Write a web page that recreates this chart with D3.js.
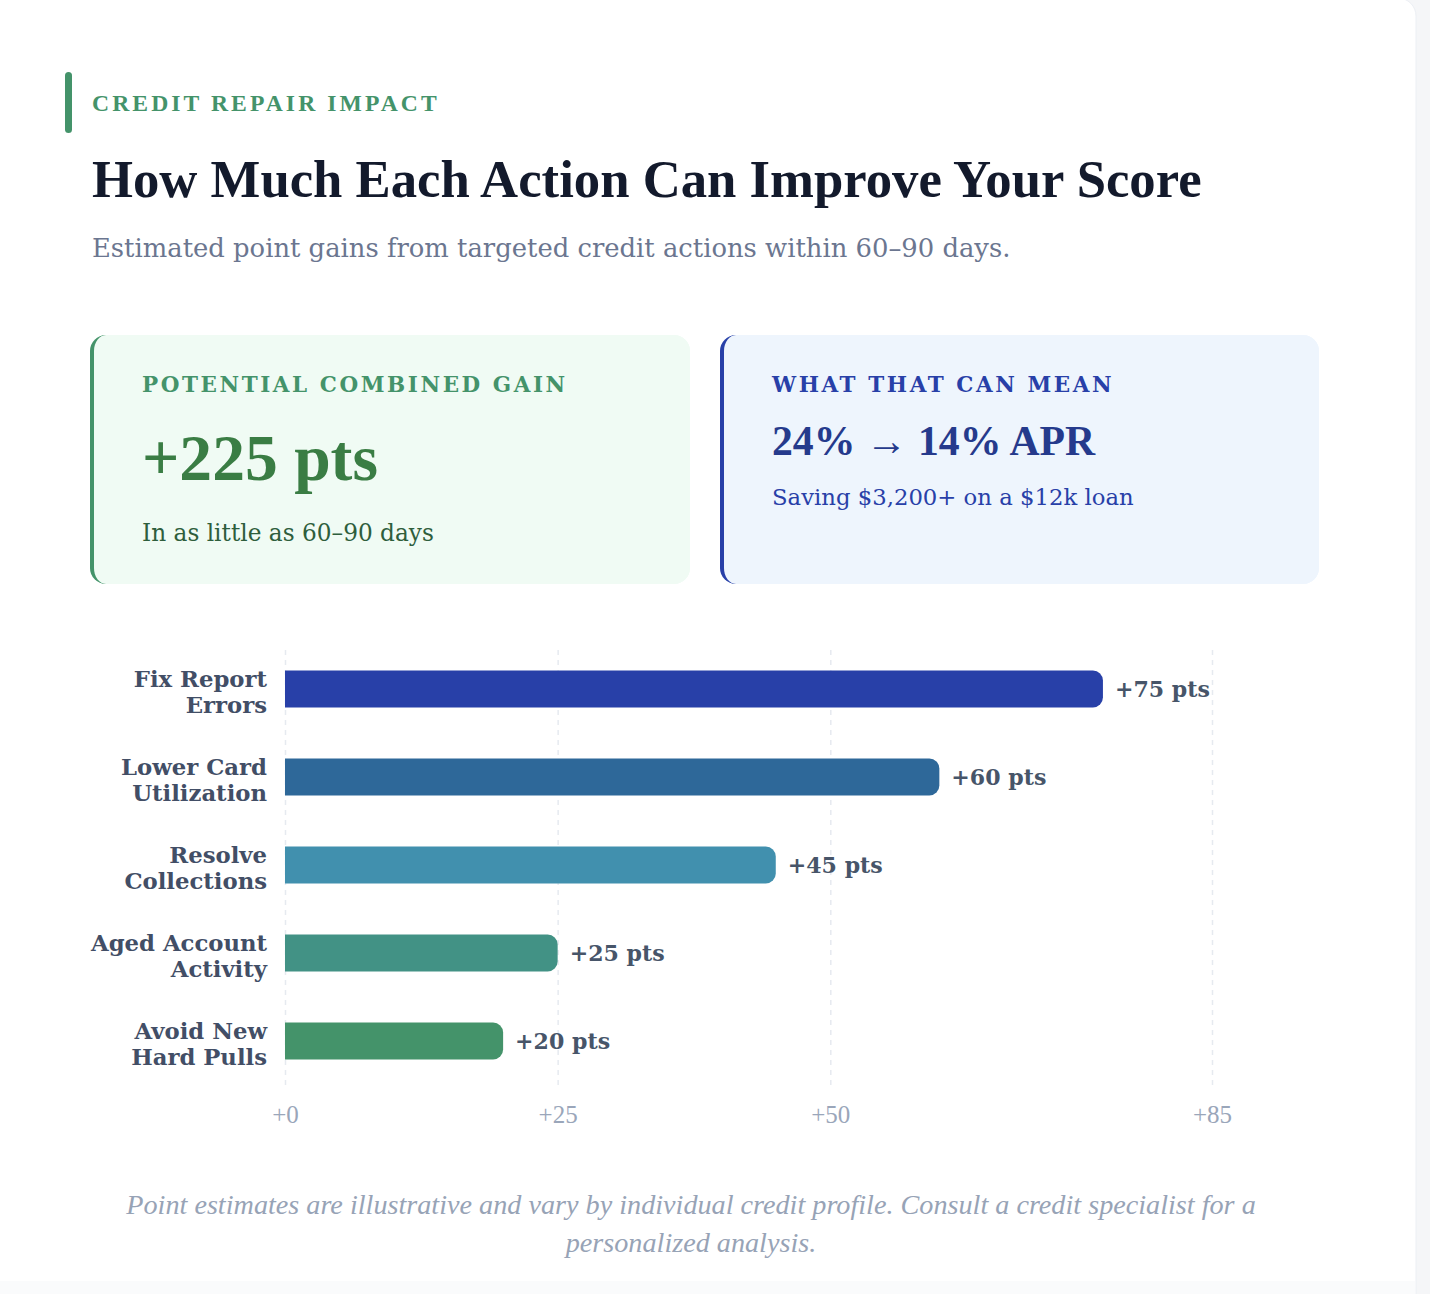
<!DOCTYPE html>
<html><head><meta charset="utf-8">
<script src="https://cdn.jsdelivr.net/npm/d3@7"></script>
<style>html,body{margin:0;padding:0;background:#f5f6f8;} svg{display:block}</style>
</head><body><svg id="c" width="1430" height="1294"></svg>
<script>
// ---------- data ----------
const categories = ["Fix Report Errors","Lower Card Utilization","Resolve Collections","Aged Account Activity","Avoid New Hard Pulls"];
const categoryLines = [["Fix Report","Errors"],["Lower Card","Utilization"],["Resolve","Collections"],["Aged Account","Activity"],["Avoid New","Hard Pulls"]];
const gains = [75, 60, 45, 25, 20];
const barColors = ["#2840a8","#2e6899","#4190ae","#429285","#44936a"];
const tickValues = [0, 25, 50, 85];
const axisMax = 85;
const eyebrow = "CREDIT REPAIR IMPACT";
const title = "How Much Each Action Can Improve Your Score";
const subtitle = "Estimated point gains from targeted credit actions within 60\u201390 days.";
const cardLabels = ["POTENTIAL COMBINED GAIN", "WHAT THAT CAN MEAN"];
const cardValues = ["+225 pts", "24% \u2192 14% APR"];
const cardNotes = ["In as little as 60\u201390 days", "Saving $3,200+ on a $12k loan"];
const footnoteLines = ["Point estimates are illustrative and vary by individual credit profile. Consult a credit specialist for a", "personalized analysis."];

// ---------- helpers ----------
const T = "'Liberation Serif','Times New Roman',serif";
const G = "'DejaVu Serif',Georgia,serif";
function fit(sel, target, lsEm) {
  lsEm = lsEm || 0;
  const fs0 = parseFloat(sel.attr("font-size"));
  sel.attr("letter-spacing", lsEm * fs0);
  const w = sel.node().getBBox().width;
  const fs = fs0 * target / w;
  sel.attr("font-size", fs).attr("letter-spacing", lsEm * fs);
  return fs;
}

const svg = d3.select("#c");
const defs = svg.append("defs");

// page card
svg.append("rect").attr("x", -20).attr("y", -2).attr("width", 1436).attr("height", 1320)
  .attr("rx", 18).attr("fill", "#ffffff").attr("stroke", "#eceff4");
svg.append("rect").attr("x", 0).attr("y", 1281).attr("width", 1415).attr("height", 13).attr("fill", "#fafbfc");

// header
svg.append("rect").attr("x", 65).attr("y", 72).attr("width", 7).attr("height", 61).attr("rx", 3.5).attr("fill", "#44936a");
fit(svg.append("text").attr("x", 92).attr("y", 111).attr("font-family", T).attr("font-weight", 700)
  .attr("font-size", 21).attr("fill", "#44936a").text(eyebrow), 348, 0.13);
fit(svg.append("text").attr("x", 92).attr("y", 197).attr("font-family", T).attr("font-weight", 700)
  .attr("font-size", 52).attr("fill", "#131a2c").text(title), 1110);
fit(svg.append("text").attr("x", 92).attr("y", 257).attr("font-family", G)
  .attr("font-size", 24).attr("fill", "#6b7690").text(subtitle), 919);

// cards
const cards = [
  {x: 90, y: 335, w: 600, h: 249, bg: "#f0fbf4", border: "#44936a", lab: "#44936a", val: "#3a7d44", note: "#2e5e3c",
   valY: 480, noteY: 541, valW: 236, noteW: 292, labW: 426},
  {x: 720, y: 335, w: 599, h: 249, bg: "#eef5fd", border: "#2840a8", lab: "#2840a8", val: "#253a8c", note: "#2840a8",
   valY: 455, noteY: 505, valW: 324, noteW: 362, labW: 346}
];
let labFs = null;
cards.forEach((c, i) => {
  const id = "clip" + i;
  defs.append("clipPath").attr("id", id).append("rect").attr("x", c.x).attr("y", c.y)
    .attr("width", c.w).attr("height", c.h).attr("rx", 16);
  const g = svg.append("g").attr("clip-path", `url(#${id})`);
  g.append("rect").attr("x", c.x).attr("y", c.y).attr("width", c.w).attr("height", c.h).attr("fill", c.bg);
  g.append("rect").attr("x", c.x).attr("y", c.y).attr("width", 30).attr("height", c.h).attr("fill", c.border);
  g.append("rect").attr("x", c.x + 4).attr("y", c.y).attr("width", c.w).attr("height", c.h)
    .attr("rx", 12).attr("ry", 16).attr("fill", c.bg);
  const tx = c.x + 52;
  const lab = svg.append("text").attr("x", tx).attr("y", 392).attr("font-family", G).attr("font-weight", 700)
    .attr("font-size", 20).attr("fill", c.lab).text(cardLabels[i]);
  if (labFs === null) labFs = fit(lab, c.labW, 0.12);
  else lab.attr("font-size", labFs).attr("letter-spacing", 0.12 * labFs);
  fit(svg.append("text").attr("x", tx).attr("y", c.valY).attr("font-family", T).attr("font-weight", 700)
    .attr("font-size", 50).attr("fill", c.val).text(cardValues[i]), c.valW);
  fit(svg.append("text").attr("x", tx).attr("y", c.noteY).attr("font-family", G)
    .attr("font-size", 20).attr("fill", c.note).text(cardNotes[i]), c.noteW);
});

// ---------- chart ----------
const x = d3.scaleLinear().domain([0, axisMax]).range([285, 1212]);
const y = d3.scaleBand().domain(categories).range([645, 1085]).paddingInner(0.58).paddingOuter(0.29);
const data = categories.map((c, i) => ({cat: c, v: gains[i], color: barColors[i], lines: categoryLines[i]}));

// grid + ticks via axis
const axis = d3.axisBottom(x).tickValues(tickValues).tickFormat(d => "+" + d).tickSize(-(1085 - 645)).tickPadding(0);
const ag = svg.append("g").attr("transform", "translate(0,1085)").call(axis);
ag.select(".domain").remove();
ag.selectAll(".tick line").attr("stroke", "#e6eaf0").attr("stroke-width", 1.5).attr("stroke-dasharray", "5,5");
ag.selectAll(".tick text").attr("y", 38).attr("dy", 0).attr("font-family", T).attr("font-size", 25)
  .attr("fill", "#9aa6ba");

// bars
const r = 10;
function barPath(d) {
  const x0 = x(0), x1 = x(d.v), y0 = y(d.cat), h = y.bandwidth();
  return `M${x0},${y0}H${x1 - r}A${r},${r} 0 0 1 ${x1},${y0 + r}V${y0 + h - r}A${r},${r} 0 0 1 ${x1 - r},${y0 + h}H${x0}Z`;
}
svg.append("g").selectAll("path").data(data).join("path").attr("d", barPath).attr("fill", d => d.color);

// value labels
const vl = svg.append("g").selectAll("text").data(data).join("text")
  .attr("x", d => x(d.v) + 12).attr("y", d => y(d.cat) + y.bandwidth() / 2 + 8)
  .attr("font-family", G).attr("font-weight", 700).attr("font-size", 22).attr("fill", "#475569")
  .text(d => "+" + d.v + " pts");
const vfs = fit(d3.select(vl.nodes()[0]), 95);
vl.attr("font-size", vfs);

// category labels
const cl = svg.append("g").selectAll("text").data(data).join("text")
  .attr("text-anchor", "end").attr("font-family", G).attr("font-weight", 700).attr("font-size", 22)
  .attr("fill", "#424e66");
cl.each(function(d) {
  const t = d3.select(this), cy = y(d.cat) + y.bandwidth() / 2;
  d.lines.forEach((ln, j) => t.append("tspan").attr("x", 267).attr("y", cy - 2 + j * 26).text(ln));
});
const probe = svg.append("text").attr("font-family", G).attr("font-weight", 700).attr("font-size", 22).text(categoryLines[3][0]);
const cfs = fit(probe, 178);
probe.remove();
cl.attr("font-size", cfs);

// footnote
let ffs = null;
footnoteLines.forEach((ln, i) => {
  const t = svg.append("text").attr("x", 691).attr("y", 1214 + i * 38).attr("text-anchor", "middle")
    .attr("font-family", T).attr("font-style", "italic").attr("font-size", 22).attr("fill", "#97a3b6").text(ln);
  if (ffs === null) ffs = fit(t, 1131); else t.attr("font-size", ffs);
});
</script></body></html>
